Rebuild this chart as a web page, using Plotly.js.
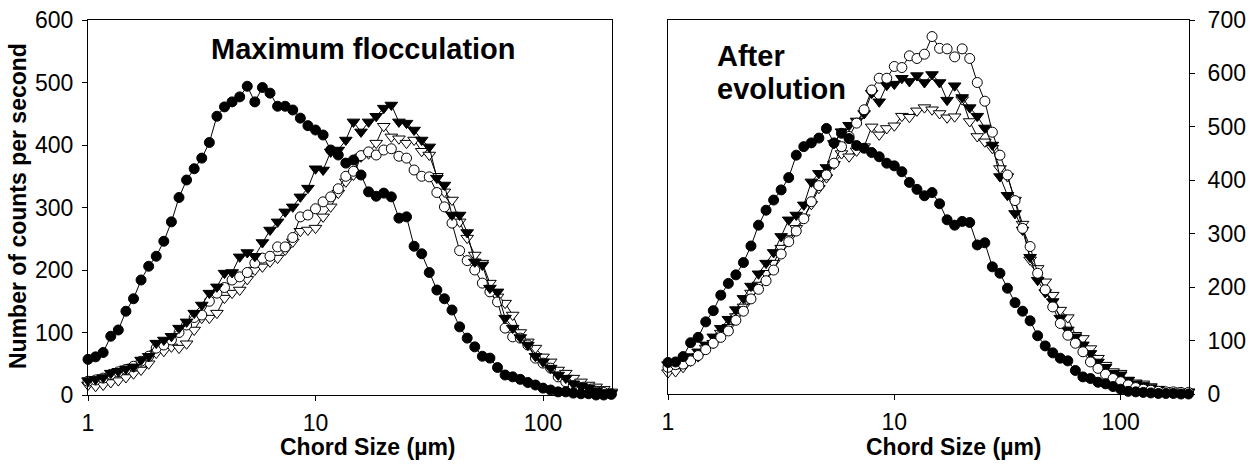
<!DOCTYPE html>
<html>
<head>
<meta charset="utf-8">
<script src="https://cdn.plot.ly/plotly-3.0.1.min.js"></script>
<style>
html,body{margin:0;padding:0;background:#fff;}
#chart{width:1260px;height:464px;}
</style>
</head>
<body>
<div id="chart"></div>
<script>
// Chord size channels (µm)
const chordSize = [1.000,1.080,1.166,1.259,1.359,1.468,1.585,1.711,1.848,1.995,
  2.154,2.326,2.512,2.712,2.929,3.162,3.415,3.687,3.981,4.299,
  4.642,5.012,5.412,5.843,6.310,6.813,7.356,7.943,8.577,9.261,
  10.00,10.80,11.66,12.59,13.59,14.68,15.85,17.11,18.48,19.95,
  21.54,23.26,25.12,27.12,29.29,31.62,34.15,36.87,39.81,42.99,
  46.42,50.12,54.12,58.43,63.10,68.13,73.56,79.43,85.77,92.61,
  100.0,108.0,116.6,125.9,135.9,146.8,158.5,171.1,184.8,199.5];

// Left panel: Maximum flocculation
const maxFilledCircle = [57,61,68,94,104,134,154,184,206,222,
  246,277,316,344,362,379,404,446,461,469,
  477,494,469,492,483,462,462,456,443,431,
  424,416,392,384,371,376,352,325,318,323,
  317,283,285,238,226,196,168,154,136,109,
  91,77,62,59,44,32,29,25,20,16,
  11,8,5,5,3,2,2,0,0,1];
const maxOpenCircle = [22,24,27,33,37,41,46,54,62,75,
  80,88,100,112,124,128,150,163,172,184,
  189,196,211,219,222,237,237,252,285,288,
  298,309,317,330,350,358,383,389,384,392,
  394,382,379,360,350,349,324,301,275,231,
  215,200,179,165,149,107,93,91,80,59,
  51,43,29,21,15,12,9,6,4,2];
const maxFilledTriangle = [23,25,28,35,38,42,45,56,62,83,
  88,94,107,117,131,144,163,173,195,196,
  221,228,222,244,264,277,293,301,317,331,
  362,360,389,392,408,437,421,437,446,459,
  464,437,435,424,408,397,347,336,288,288,
  260,213,208,171,165,123,107,92,80,62,
  53,43,32,27,18,14,11,7,4,3];
const maxOpenTriangle = [16,14,16,20,23,28,34,40,50,67,
  70,77,75,82,104,123,123,131,155,163,
  168,185,200,205,213,219,232,245,262,264,
  267,285,301,323,341,352,381,386,403,430,
  413,410,403,408,390,384,350,325,312,277,
  251,224,211,179,157,147,128,100,85,75,
  61,53,40,35,27,21,16,13,9,5];

// Right panel: After evolution
const evoFilledCircle = [59,60,70,96,106,135,156,185,207,223,
  246,277,316,344,363,382,405,447,463,470,
  479,497,470,488,478,465,460,452,444,432,
  427,416,396,383,371,377,356,326,316,323,
  321,279,283,238,226,198,171,155,137,109,
  90,77,67,62,44,32,29,22,19,14,
  9,5,4,3,2,1,1,1,0,0];
const evoOpenCircle = [50,55,56,62,72,83,95,106,118,138,
  155,178,196,212,232,262,285,305,328,360,
  390,410,432,463,482,507,532,569,591,591,
  613,611,633,628,636,669,647,646,631,646,
  628,583,548,490,447,410,362,310,276,226,
  195,163,132,110,95,79,60,48,37,29,
  23,17,12,9,7,5,4,4,3,3];
const evoFilledTriangle = [55,57,59,70,79,92,107,123,140,158,
  179,202,225,245,265,295,326,335,354,397,
  413,424,469,491,503,511,525,563,547,578,
  580,591,585,596,583,598,583,550,577,555,
  536,520,498,466,407,372,338,307,256,213,
  190,173,142,120,107,92,76,60,50,39,
  36,26,19,16,12,9,6,6,4,4];
const evoOpenTriangle = [40,42,50,62,70,86,95,114,125,145,
  163,189,204,226,245,273,291,310,330,355,
  385,405,430,450,444,455,463,500,485,497,
  502,520,518,530,536,532,525,517,519,551,
  510,482,472,460,422,407,363,318,251,235,
  210,185,157,143,110,104,85,67,54,42,
  39,26,21,19,14,9,6,5,4,4];

const xTicks = [1, 10, 100];
const leftYTicks = [0, 100, 200, 300, 400, 500, 600];
const rightYTicks = [0, 100, 200, 300, 400, 500, 600, 700];

const FONT = 'Liberation Sans, Arial, Helvetica, sans-serif';

function series(y, symbol, filled, xa, ya) {
  return {
    x: chordSize, y: y, xaxis: xa, yaxis: ya,
    type: 'scatter', mode: 'lines+markers', cliponaxis: false,
    line: {color: '#000', width: 1},
    marker: {symbol: symbol, size: symbol === 'circle' ? 10 : 11,
             color: filled ? '#000' : '#fff',
             line: {color: '#000', width: 1}},
    showlegend: false, hoverinfo: 'skip'
  };
}

const data = [
  series(maxOpenTriangle, 'triangle-down', false, 'x', 'y'),
  series(maxOpenCircle, 'circle', false, 'x', 'y'),
  series(maxFilledTriangle, 'triangle-down', true, 'x', 'y'),
  series(maxFilledCircle, 'circle', true, 'x', 'y'),
  series(evoOpenTriangle, 'triangle-down', false, 'x2', 'y2'),
  series(evoFilledTriangle, 'triangle-down', true, 'x2', 'y2'),
  series(evoOpenCircle, 'circle', false, 'x2', 'y2'),
  series(evoFilledCircle, 'circle', true, 'x2', 'y2')
];

const W = 1260, H = 464;
const px = v => v / W;
const py = v => (H - v) / H;

const axisCommon = {
  showline: true, linecolor: '#000', linewidth: 1, mirror: true,
  showgrid: false, zeroline: false,
  ticks: 'outside', ticklen: 5, tickwidth: 1, tickcolor: '#000',
  tickfont: {family: FONT, size: 23, color: '#000'}
};

const layout = {
  width: W, height: H,
  margin: {l: 0, r: 0, t: 0, b: 0},
  paper_bgcolor: '#fff', plot_bgcolor: '#fff',
  showlegend: false,
  xaxis: Object.assign({}, axisCommon, {
    type: 'log', range: [0, Math.log10(201)], domain: [px(88), px(612)],
    tickvals: xTicks, ticktext: xTicks.map(String), anchor: 'y',
    ticklabelstandoff: 2
  }),
  yaxis: Object.assign({}, axisCommon, {
    range: [0, 600], domain: [py(395), py(20)], tickvals: leftYTicks,
    anchor: 'x', ticklabelstandoff: 4
  }),
  xaxis2: Object.assign({}, axisCommon, {
    type: 'log', range: [0, Math.log10(200.5)], domain: [px(668), px(1189)],
    tickvals: xTicks, ticktext: xTicks.map(String), anchor: 'y2',
    ticklabelstandoff: 2
  }),
  yaxis2: Object.assign({}, axisCommon, {
    range: [0, 700], domain: [py(394), py(20)], tickvals: rightYTicks,
    anchor: 'x2', side: 'right', ticklabelstandoff: 8
  }),
  annotations: [
    {text: '<b>Chord Size (µm)</b>', xref: 'paper', yref: 'paper',
     x: px(368), y: py(447), xanchor: 'center', yanchor: 'middle', showarrow: false,
     font: {family: FONT, size: 23, color: '#000'}},
    {text: '<b>Chord Size (µm)</b>', xref: 'paper', yref: 'paper',
     x: px(954), y: py(447), xanchor: 'center', yanchor: 'middle', showarrow: false,
     font: {family: FONT, size: 23, color: '#000'}},
    {text: '<b>Number of counts per second</b>', xref: 'paper', yref: 'paper',
     x: px(18), y: py(206), xanchor: 'center', yanchor: 'middle', textangle: -90, showarrow: false,
     font: {family: FONT, size: 23, color: '#000'}},
    {text: '<b>Maximum flocculation</b>', xref: 'paper', yref: 'paper',
     x: px(209), y: py(49), xanchor: 'left', yanchor: 'middle', showarrow: false,
     font: {family: FONT, size: 29, color: '#000'}},
    {text: '<b>After</b>', xref: 'paper', yref: 'paper',
     x: px(715), y: py(56), xanchor: 'left', yanchor: 'middle', showarrow: false,
     font: {family: FONT, size: 29, color: '#000'}},
    {text: '<b>evolution</b>', xref: 'paper', yref: 'paper',
     x: px(715), y: py(89), xanchor: 'left', yanchor: 'middle', showarrow: false,
     font: {family: FONT, size: 29, color: '#000'}}
  ]
};

Plotly.newPlot('chart', data, layout, {displayModeBar: false, staticPlot: true});
</script>
</body>
</html>
